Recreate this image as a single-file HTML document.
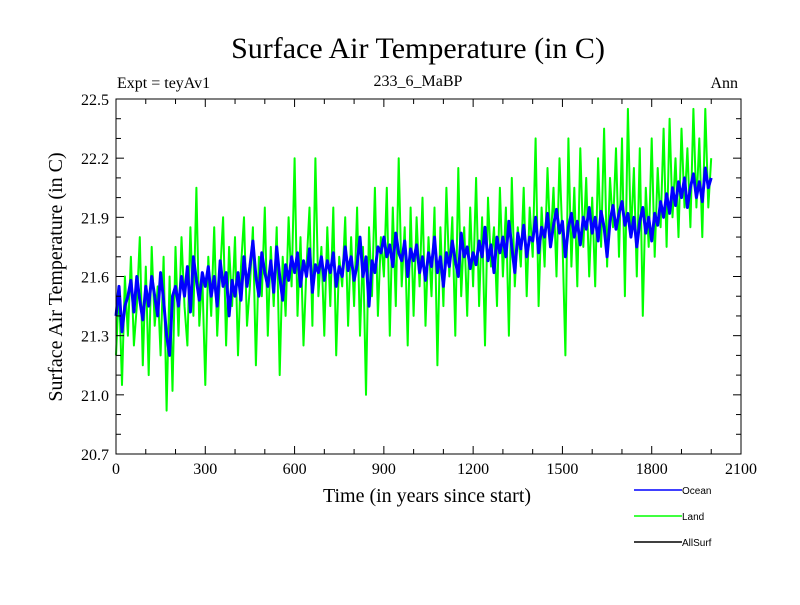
<!DOCTYPE html>
<html><head><meta charset="utf-8"><style>
body{margin:0;background:#fff}
svg text{font-family:"Liberation Serif",serif}
svg text.leg{font-family:"Liberation Sans",sans-serif}
</style></head><body>
<svg id="c" width="800" height="600" xmlns="http://www.w3.org/2000/svg">
<rect width="800" height="600" fill="#fff"/>
<text x="418" y="58" font-size="30" text-anchor="middle">Surface Air Temperature (in C)</text>
<text x="117" y="88" font-size="16">Expt = teyAv1</text>
<text x="418" y="86" font-size="16" text-anchor="middle">233_6_MaBP</text>
<text x="738" y="88" font-size="16" text-anchor="end">Ann</text>
<text x="427" y="502" font-size="20" text-anchor="middle">Time (in years since start)</text>
<text transform="translate(62,277) rotate(-90)" font-size="20" text-anchor="middle">Surface Air Temperature (in C)</text>
<g id="plot"></g>
<g>
<g><line x1="634" y1="490" x2="682" y2="490" stroke="#0000ff" stroke-width="1.5"/><text class="leg" x="682" y="494" font-size="10">Ocean</text></g>
<g><line x1="634" y1="516" x2="682" y2="516" stroke="#00ff00" stroke-width="1.5"/><text class="leg" x="682" y="520" font-size="10">Land</text></g>
<g><line x1="634" y1="542" x2="682" y2="542" stroke="#000" stroke-width="1.5"/><text class="leg" x="682" y="546" font-size="10">AllSurf</text></g>
</g>
</svg>
<script>
const xTicks=[0,300,600,900,1200,1500,1800,2100];
const yTicks=["20.7","21.0","21.3","21.6","21.9","22.2","22.5"];
const yearStep=10;
const ocean=[21.40,21.55,21.32,21.45,21.50,21.58,21.42,21.60,21.48,21.38,
21.55,21.45,21.60,21.50,21.40,21.62,21.48,21.30,21.20,21.50,
21.55,21.45,21.60,21.50,21.65,21.42,21.70,21.58,21.48,21.62,
21.55,21.65,21.50,21.60,21.45,21.68,21.55,21.62,21.40,21.58,
21.50,21.62,21.48,21.70,21.55,21.65,21.78,21.60,21.50,21.72,
21.62,21.55,21.68,21.52,21.75,21.60,21.48,21.66,21.58,21.70,
21.62,21.72,21.55,21.68,21.60,21.74,21.52,21.66,21.62,21.70,
21.58,21.68,21.62,21.72,21.55,21.65,21.60,21.75,21.63,21.70,
21.58,21.66,21.80,21.60,21.70,21.45,21.68,21.62,21.75,21.72,
21.80,21.70,21.76,21.65,21.82,21.72,21.68,21.78,21.60,21.74,
21.68,21.76,21.62,21.70,21.58,21.72,21.65,21.80,21.62,21.70,
21.55,21.72,21.65,21.78,21.68,21.60,21.82,21.70,21.75,21.64,
21.72,21.66,21.78,21.70,21.85,21.68,21.76,21.62,21.80,21.72,
21.80,21.70,21.88,21.75,21.62,21.82,21.74,21.86,21.70,21.80,
21.78,21.90,21.72,21.85,21.80,21.92,21.75,21.86,21.94,21.82,
21.88,21.70,21.85,21.92,21.80,21.88,21.76,21.90,21.84,21.95,
21.82,21.90,21.78,21.93,21.85,21.70,21.88,21.96,21.84,21.92,
21.98,21.86,21.92,21.80,21.90,21.75,21.88,21.95,21.82,21.90,
21.78,21.92,21.86,21.98,21.90,22.02,21.92,22.05,21.96,22.08,
22.00,22.10,21.95,22.05,22.12,22.00,22.08,21.98,22.15,22.05,22.10];
const land=[21.20,21.55,21.05,21.60,21.30,21.70,21.25,21.45,21.80,21.15,
21.65,21.10,21.75,21.35,21.55,21.20,21.70,20.92,21.60,21.02,
21.75,21.30,21.80,21.45,21.25,21.85,21.40,22.05,21.35,21.60,
21.05,21.70,21.40,21.85,21.30,21.62,21.90,21.25,21.75,21.45,
21.80,21.20,21.65,21.90,21.35,21.55,21.85,21.15,21.70,21.50,
21.95,21.30,21.75,21.45,21.85,21.10,21.70,21.40,21.90,21.55,
22.20,21.40,21.80,21.25,21.65,21.95,21.35,22.20,21.50,21.75,
21.30,21.85,21.45,21.95,21.20,21.70,21.55,21.90,21.35,21.80,
21.45,21.95,21.30,21.75,21.00,21.85,21.50,22.05,21.40,21.80,
21.60,22.05,21.30,21.95,21.45,22.20,21.55,21.85,21.25,21.95,
21.40,21.90,21.55,22.00,21.35,21.80,21.50,21.95,21.15,21.85,
21.45,22.05,21.60,21.90,21.30,22.15,21.50,21.85,21.40,21.95,
21.55,22.10,21.45,21.90,21.25,22.00,21.65,21.85,21.45,22.05,
21.60,21.95,21.30,22.10,21.55,21.85,21.65,22.05,21.50,21.95,
21.70,22.30,21.45,21.95,21.65,22.15,21.75,22.05,21.60,22.20,
21.80,21.20,22.30,21.65,22.05,21.55,22.25,21.75,22.10,21.60,
22.00,21.55,22.20,21.75,22.35,21.65,22.10,21.85,22.25,21.70,
22.30,21.50,22.45,21.80,22.15,21.60,22.25,21.40,22.05,21.75,
22.30,21.70,22.15,21.85,22.35,21.75,22.40,21.90,22.20,21.80,
22.35,21.95,22.25,21.85,22.45,21.95,22.30,21.80,22.45,21.95,22.20];

const L=116,R=741,T=99,B=454,X0=0,X1=2100,Y0=20.7,Y1=22.5;
const sx=v=>L+(v-X0)/(X1-X0)*(R-L);
const sy=v=>B-(v-Y0)/(Y1-Y0)*(B-T);
const NS="http://www.w3.org/2000/svg";
const g=document.getElementById('plot');
function mk(t,a){const e=document.createElementNS(NS,t);for(const k in a)e.setAttribute(k,a[k]);g.appendChild(e);return e;}
function series(arr,color,w,name){
  const pts=arr.map((v,i)=>sx(i*yearStep).toFixed(1)+","+sy(v).toFixed(1)).join(" ");
  const p=mk('polyline',{points:pts,fill:'none',stroke:color,'stroke-width':w,'stroke-linejoin':'round'});
  
  
}
series(land,'#00ff00',2,'land-line');
series(ocean,'#0000ff',3,'ocean-line');
const frame=mk('rect',{x:L,y:T,width:R-L,height:B-T,fill:'none',stroke:'#000','stroke-width':1});


for(let v=X0;v<=X1;v+=100){
  const major=v%300===0,len=major?8:5,x=sx(v);
  mk('line',{x1:x,y1:B,x2:x,y2:B-len,stroke:'#000'});
  mk('line',{x1:x,y1:T,x2:x,y2:T+len,stroke:'#000'});
}
xTicks.forEach(v=>{
  const t=mk('text',{x:sx(v),y:B+20,'font-size':16,'text-anchor':'middle'});
  t.textContent=v;
  
  
});
for(let i=0;i<=18;i++){
  const v=Y0+i*0.1,major=i%3===0,len=major?8:5,y=sy(v);
  mk('line',{x1:L,y1:y,x2:L+len,y2:y,stroke:'#000'});
  mk('line',{x1:R,y1:y,x2:R-len,y2:y,stroke:'#000'});
}
yTicks.forEach(s=>{
  const t=mk('text',{x:L-7,y:sy(parseFloat(s))+6,'font-size':16,'text-anchor':'end'});
  t.textContent=s;
  
  
});
</script>
</body></html>
